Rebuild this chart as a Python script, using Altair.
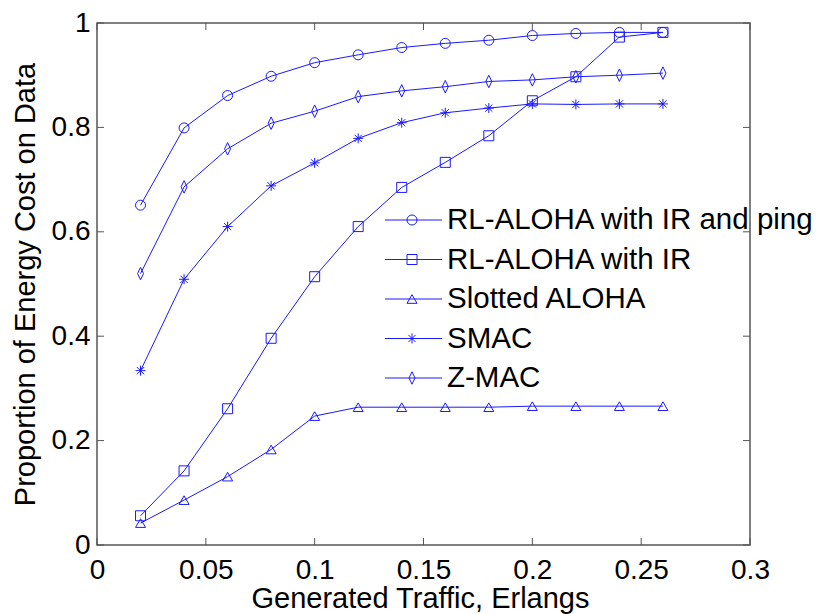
import altair as alt
import pandas as pd

# ---------------- data ----------------
traffic = [0.02, 0.04, 0.06, 0.08, 0.10, 0.12, 0.14, 0.16, 0.18, 0.20, 0.22, 0.24, 0.26]

series_names = [
    "RL-ALOHA with IR and ping",
    "RL-ALOHA with IR",
    "Slotted ALOHA",
    "SMAC",
    "Z-MAC",
]

rl_ir_ping = [0.651, 0.799, 0.861, 0.898, 0.924, 0.939, 0.953, 0.961, 0.967, 0.976, 0.980, 0.982, 0.982]
rl_ir = [0.056, 0.142, 0.261, 0.396, 0.514, 0.610, 0.685, 0.733, 0.784, 0.851, 0.897, 0.973, 0.982]
slotted = [0.042, 0.086, 0.131, 0.183, 0.247, 0.264, 0.264, 0.264, 0.264, 0.266, 0.266, 0.266, 0.266]
smac = [0.334, 0.509, 0.610, 0.688, 0.732, 0.779, 0.809, 0.828, 0.837, 0.845, 0.844, 0.845, 0.845]
zmac = [0.520, 0.686, 0.759, 0.808, 0.831, 0.859, 0.870, 0.878, 0.888, 0.891, 0.897, 0.900, 0.904]

x_ticks = [0, 0.05, 0.1, 0.15, 0.2, 0.25, 0.3]
y_ticks = [0, 0.2, 0.4, 0.6, 0.8, 1.0]

# ---------------- tables ----------------
values_by_series = [rl_ir_ping, rl_ir, slotted, smac, zmac]
rows = []
for name, vals in zip(series_names, values_by_series):
    for xv, yv in zip(traffic, vals):
        rows.append({"series": name, "traffic": xv, "value": yv})
df = pd.DataFrame(rows)
legend_df = pd.DataFrame({"series": series_names})
xt_df = pd.DataFrame({"v": x_ticks})
yt_df = pd.DataFrame({"v": y_ticks})

# ---------------- styles ----------------
BLUE = "#1a1aff"
AXIS_COLOR = "#555555"
FONT = "Liberation Sans"
W, H = 653, 522
TICK_Y = 7 / H          # inward tick length in y data units
TICK_X = 7 / W * 0.3    # inward tick length in x data units

ASTERISK = "M0,-1L0,1M-1,0L1,0M-0.72,-0.72L0.72,0.72M-0.72,0.72L0.72,-0.72"
DIAMOND = "M0,-1.25L0.6,0L0,1.25L-0.6,0Z"
shape_scale = alt.Scale(
    domain=series_names,
    range=["circle", "square", "triangle-up", ASTERISK, DIAMOND],
)

x_scale = alt.Scale(domain=[0, 0.3], nice=False, zero=False)
y_scale = alt.Scale(domain=[0, 1], nice=False, zero=False)

x_axis = alt.Axis(
    values=x_ticks, format="~g", title="Generated Traffic, Erlangs",
    domain=False, ticks=False, tickSize=0, grid=False,
    labelFontSize=28, labelFont=FONT, labelColor="black",
    labelBaseline="alphabetic", labelPadding=33,
    labelFlush=False, labelOverlap=False, labelBound=False,
    titleFontSize=29, titleFont=FONT, titleFontWeight="normal", titleColor="black",
    titleBaseline="alphabetic", titleX=323, titleY=62, titleAlign="center",
)
y_axis = alt.Axis(
    values=y_ticks, format="~g", title="Proportion of Energy Cost on Data",
    domain=False, ticks=False, tickSize=0, grid=False,
    labelFontSize=28, labelFont=FONT, labelColor="black",
    labelPadding=7, labelFlush=False, labelOverlap=False, labelBound=False,
    titleFontSize=29, titleFont=FONT, titleFontWeight="normal", titleColor="black",
    titleBaseline="alphabetic", titleX=-63, titleY=261, titleAlign="center", titleAngle=270,
)

lines = alt.Chart(df).mark_line(color=BLUE, strokeWidth=1).encode(
    x=alt.X("traffic:Q", scale=x_scale, axis=x_axis),
    y=alt.Y("value:Q", scale=y_scale, axis=y_axis),
    detail="series:N",
)
points = alt.Chart(df).mark_point(filled=False, color=BLUE, size=100, strokeWidth=1, opacity=1).encode(
    x=alt.X("traffic:Q", scale=x_scale, axis=x_axis),
    y=alt.Y("value:Q", scale=y_scale, axis=y_axis),
    shape=alt.Shape("series:N", scale=shape_scale, legend=None),
)

# inward tick marks on all four sides
tick_style = dict(color=AXIS_COLOR, strokeWidth=1)
bottom_ticks = alt.Chart(xt_df).transform_calculate(a="0", b=str(TICK_Y)).mark_rule(**tick_style).encode(
    x=alt.X("v:Q", scale=x_scale, axis=x_axis),
    y=alt.Y("a:Q", scale=y_scale, axis=y_axis), y2="b:Q")
top_ticks = alt.Chart(xt_df).transform_calculate(a="1", b=str(1 - TICK_Y)).mark_rule(**tick_style).encode(
    x=alt.X("v:Q", scale=x_scale, axis=x_axis),
    y=alt.Y("a:Q", scale=y_scale, axis=y_axis), y2="b:Q")
left_ticks = alt.Chart(yt_df).transform_calculate(a="0", b=str(TICK_X)).mark_rule(**tick_style).encode(
    y=alt.Y("v:Q", scale=y_scale, axis=y_axis),
    x=alt.X("a:Q", scale=x_scale, axis=x_axis), x2="b:Q")
right_ticks = alt.Chart(yt_df).transform_calculate(a="0.3", b=str(0.3 - TICK_X)).mark_rule(**tick_style).encode(
    y=alt.Y("v:Q", scale=y_scale, axis=y_axis),
    x=alt.X("a:Q", scale=x_scale, axis=x_axis), x2="b:Q")

# legend (no box), drawn inside the plot, one row per series
LEG_TOP, LEG_STEP = 197, 39.5
legend_layers = []
for i, name in enumerate(series_names):
    row_y = LEG_TOP + i * LEG_STEP
    base = alt.Chart(legend_df).transform_filter(alt.datum.series == name)
    legend_layers.append(base.mark_rule(color=BLUE, strokeWidth=1).encode(
        x=alt.value(288), x2=alt.value(345), y=alt.value(row_y)))
    legend_layers.append(base.mark_point(filled=False, color=BLUE, size=100, strokeWidth=1, opacity=1).encode(
        x=alt.value(315), y=alt.value(row_y),
        shape=alt.Shape("series:N", scale=shape_scale, legend=None)))
    legend_layers.append(base.mark_text(
        align="left", baseline="middle", fontSize=29.5, font=FONT, color="black").encode(
        x=alt.value(350), y=alt.value(row_y), text="series:N"))

chart = alt.layer(
    lines, points, bottom_ticks, top_ticks, left_ticks, right_ticks, *legend_layers
).properties(
    width=W, height=H,
    padding={"left": 97, "top": 23, "right": 67, "bottom": 69},
    autosize=alt.AutoSizeParams(type="none"),
    background="white",
).configure_view(stroke=AXIS_COLOR, strokeWidth=1.5)

chart.save("out.html", embed_options={"renderer": "svg", "actions": False})
